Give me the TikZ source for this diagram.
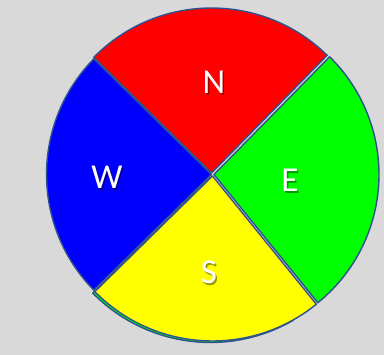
\documentclass[tikz,border=0pt]{standalone}
\usepackage{fontspec}
\setmainfont{Carlito}
\usetikzlibrary{positioning}

\begin{document}
\begin{tikzpicture}[x=1pt,y=1pt]
	\definecolor{bgcol}{HTML}{D9D9D9}
	\definecolor{edgecol}{HTML}{2F528F}
	\definecolor{colN}{HTML}{FF0000}
	\definecolor{colE}{HTML}{00FF00}
	\definecolor{colS}{HTML}{FFFF00}
	\definecolor{colW}{HTML}{0000FF}
	\tikzset{wedge/.style={draw=edgecol, line width=1.4pt, line join=round},
		dirlabel/.style={text=white, font=\fontsize{35}{40}\selectfont, inner sep=0pt},
		dirshadow/.style={text=black, opacity=0.4, font=\fontsize{35}{40}\selectfont, inner sep=0pt}}
	%% Background ------
	\fill[bgcol] (0,0) rectangle (384,355);
	\useasboundingbox (0,0) rectangle (384,355);
	%% Wedges ---------
	\coordinate (c) at (212.5,180.5);
	\fill[wedge, fill=colE] ([shift={(-2,-3)}]c) -- ++(224.5:165) arc (224.5:300:165) -- cycle;
	\fill[wedge, fill=colN] ([shift={(-1,1.5)}]c) -- ++(45.5:165) arc (45.5:135.5:165) -- cycle;
	\fill[wedge, fill=colW] ([shift={(-1,0)}]c) -- ++(135.5:165) arc (135.5:224.5:165) -- cycle;
	\fill[wedge, fill=colS] ([shift={(0,-1.5)}]c) -- ++(224.5:165) arc (224.5:309:165) -- cycle;
	\fill[wedge, fill=colE] ([shift={(1.5,0)}]c) -- ++(309:165) arc (309:405.5:165) -- cycle;
	%% Labels ---------
	\foreach \name/\txt/\px/\py in {N/N/214/273, W/W/107/178, E/E/290/175, S/S/209/83}{
		\node[dirshadow] at (\px+1.5,\py-2) {\txt};
		\node[dirlabel] (\name) at (\px,\py) {\txt};
	}
\end{tikzpicture}
\end{document}
